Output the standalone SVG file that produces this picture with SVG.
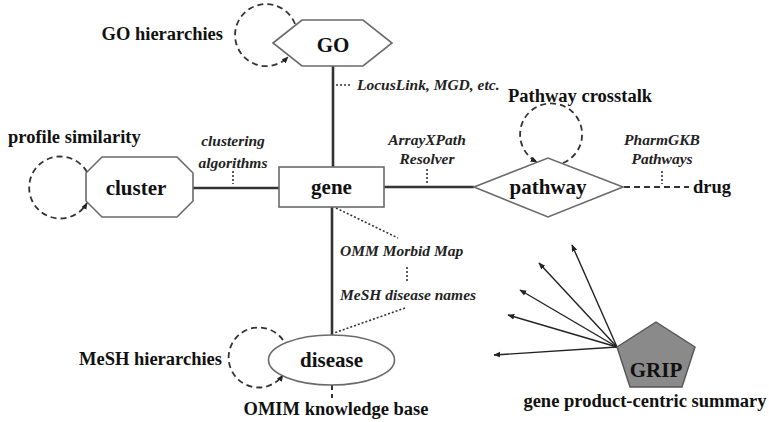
<svg xmlns="http://www.w3.org/2000/svg" width="769" height="422" viewBox="0 0 769 422">
<style>
.node{fill:#fff;stroke:#6a6a6a;stroke-width:1.6}
.nl{font-family:"Liberation Serif",serif;font-weight:bold;font-size:21px;fill:#111;text-anchor:middle}
.bl{font-family:"Liberation Serif",serif;font-weight:bold;font-size:18.5px;fill:#111}
.il{font-family:"Liberation Serif",serif;font-weight:bold;font-style:italic;font-size:15.5px;fill:#222}
.mid{text-anchor:middle}
.edge{stroke:#333;stroke-width:2.6;fill:none}
.loop{stroke:#333;stroke-width:1.8;fill:none;stroke-dasharray:6 4}
.dot{stroke:#333;stroke-width:1.6;fill:none;stroke-dasharray:2 2}
.dash{stroke:#333;stroke-width:2;fill:none;stroke-dasharray:6 4}
.arr{stroke:#222;stroke-width:1.4;fill:none}
</style>
<defs>
<marker id="ah" viewBox="0 0 10 10" refX="9" refY="5" markerWidth="7" markerHeight="7" markerUnits="userSpaceOnUse" orient="auto">
<path d="M0,1 L10,5 L0,9 z" fill="#222" stroke="none"/>
</marker>
</defs>
<g id="connectors">
<line class="edge" x1="333" y1="66" x2="333" y2="167"/>
<line class="edge" x1="332" y1="207" x2="332" y2="335"/>
<line class="edge" x1="193" y1="188" x2="279" y2="188"/>
<line class="edge" x1="384" y1="187" x2="474" y2="187"/>
<line class="dash" x1="624" y1="187" x2="689" y2="187"/>
<line class="dash" x1="332" y1="384" x2="332" y2="398"/>
<line class="dot" x1="336" y1="85" x2="352" y2="85"/>
<line class="dot" x1="233" y1="171" x2="233" y2="184"/>
<line class="dot" x1="427" y1="169" x2="427" y2="183"/>
<line class="dot" x1="662" y1="171" x2="662" y2="184"/>
<line class="dot" x1="336" y1="208" x2="398" y2="238"/>
<line class="dot" x1="407" y1="267" x2="407" y2="282"/>
<line class="dot" x1="405" y1="308" x2="334" y2="333"/>
<path class="loop" d="M295 24 A31 31 0 1 0 288 57" marker-end="url(#ah)"/>
<path class="loop" d="M87 172 A31 31 0 1 0 87 203" marker-end="url(#ah)"/>
<path class="loop" d="M563 163 A31 31 0 1 0 537 162" marker-end="url(#ah)"/>
<path class="loop" d="M283 340 A30 30 0 1 0 283 375" marker-end="url(#ah)"/>
<line class="arr" x1="617" y1="347" x2="572" y2="245" marker-end="url(#ah)"/>
<line class="arr" x1="617" y1="347" x2="539" y2="263" marker-end="url(#ah)"/>
<line class="arr" x1="617" y1="347" x2="520" y2="290" marker-end="url(#ah)"/>
<line class="arr" x1="617" y1="347" x2="508" y2="315" marker-end="url(#ah)"/>
<line class="arr" x1="617" y1="347" x2="494" y2="355" marker-end="url(#ah)"/>
</g>
<g id="GO">
<polygon class="node" points="273,43 302,20 363,20 392,43 363,66 302,66"/>
<text class="nl" x="333" y="52">GO</text>
</g>
<g id="gene">
<rect class="node" x="279" y="167" width="105" height="40"/>
<text class="nl" x="331.5" y="194">gene</text>
</g>
<g id="cluster">
<polygon class="node" points="102,157 177,157 193,173 193,201 177,217 102,217 86,201 86,173"/>
<text class="nl" x="136" y="195">cluster</text>
</g>
<g id="pathway">
<polygon class="node" points="474,187 548,158 623,187 548,217"/>
<text class="nl" x="548" y="194">pathway</text>
</g>
<g id="disease">
<ellipse class="node" cx="331.5" cy="360" rx="63" ry="25"/>
<text class="nl" x="331.5" y="367">disease</text>
</g>
<g id="GRIP">
<polygon points="656,322 695,347 682,387 630,387 617,347" fill="#8a8a8a" stroke="#555" stroke-width="1.4"/>
<text class="nl" x="656" y="377">GRIP</text>
</g>
<g id="labels">
<text class="bl" x="223" y="40" text-anchor="end">GO hierarchies</text>
<text class="bl" x="8" y="143">profile similarity</text>
<text class="bl" x="508" y="102">Pathway crosstalk</text>
<text class="bl" x="693" y="193">drug</text>
<text class="bl" x="222" y="365" text-anchor="end">MeSH hierarchies</text>
<text class="bl" x="336" y="415" text-anchor="middle">OMIM knowledge base</text>
<text class="bl" x="645" y="407" text-anchor="middle">gene product-centric summary</text>
<text class="il" x="357" y="90">LocusLink, MGD, etc.</text>
<text class="il mid" x="233" y="146">clustering</text>
<text class="il mid" x="233" y="168">algorithms</text>
<text class="il mid" x="427" y="145">ArrayXPath</text>
<text class="il mid" x="427" y="164">Resolver</text>
<text class="il mid" x="662" y="145">PharmGKB</text>
<text class="il mid" x="662" y="164">Pathways</text>
<text class="il" x="340" y="256">OMM Morbid Map</text>
<text class="il" x="340" y="300">MeSH disease names</text>
</g>
</svg>
